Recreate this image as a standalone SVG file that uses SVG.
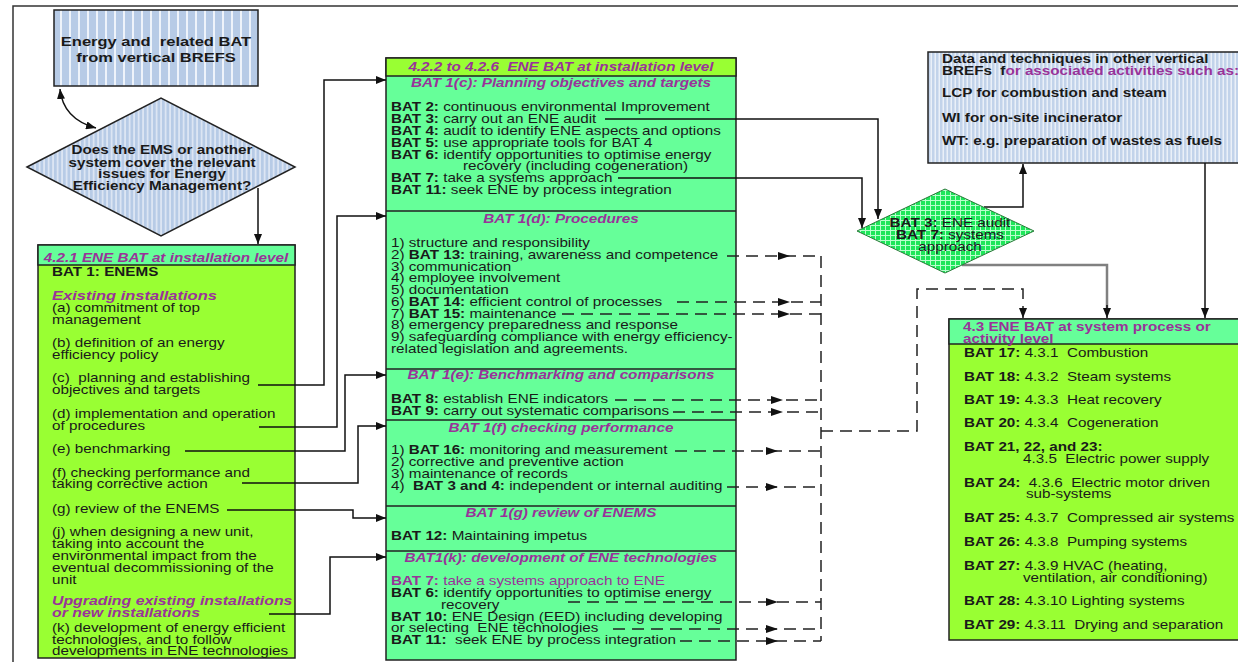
<svg xmlns="http://www.w3.org/2000/svg" width="1238" height="662" viewBox="0 0 1238 662">
<style>
.t{font-family:"Liberation Sans",Arial,sans-serif;font-size:12px;fill:#1a1a1a;white-space:pre}
.b{font-weight:bold}
.p{fill:#993399}
.h{font-weight:bold;font-style:italic;fill:#993399}
.c{text-anchor:middle}
.box{stroke:#222;stroke-width:1.5}
.ln{fill:none;stroke:#111;stroke-width:1.5}
.ds{fill:none;stroke:#222;stroke-width:1.5;stroke-dasharray:12 7}
</style>
<defs>
<pattern id="stripeA" patternUnits="userSpaceOnUse" width="9" height="10"><rect width="9" height="10" fill="#b7cbe6"/><rect x="6" width="2" height="10" fill="#eef3fa"/></pattern>
<pattern id="stripeB" patternUnits="userSpaceOnUse" width="4.5" height="10"><rect width="4.5" height="10" fill="#b7cbe6"/><rect x="3" width="1.2" height="10" fill="#eef3fa"/></pattern>
<pattern id="stripeC" patternUnits="userSpaceOnUse" width="4" height="10"><rect width="4" height="10" fill="#c2d3ea"/><rect x="2.6" width="1.2" height="10" fill="#f4f7fc"/></pattern>
<pattern id="grid" patternUnits="userSpaceOnUse" width="5" height="5"><rect width="5" height="5" fill="#1ee65a"/><path d="M0 0.5H5M0.5 0V5" stroke="#b8ffcc" stroke-width="1"/></pattern>
<marker id="ah" viewBox="0 0 10 8" refX="10" refY="4" markerWidth="10" markerHeight="8" markerUnits="userSpaceOnUse" orient="auto"><path d="M0 0L10 4L0 8z" fill="#111"/></marker>
<marker id="ahs" viewBox="0 0 10 8" refX="10" refY="4" markerWidth="10" markerHeight="8" markerUnits="userSpaceOnUse" orient="auto-start-reverse"><path d="M0 0L10 4L0 8z" fill="#111"/></marker>
<marker id="am" viewBox="0 0 12 8" refX="12" refY="4" markerWidth="12" markerHeight="8" markerUnits="userSpaceOnUse" orient="auto"><path d="M0 0L12 4L0 8z" fill="#111"/></marker>
</defs>
<rect width="1238" height="662" fill="#fff"/>
<path d="M13 662V6H1238" fill="none" stroke="#333" stroke-width="1.5"/>

<g id="vertical-brefs">
<rect class="box" x="54" y="10" width="204" height="76" fill="url(#stripeA)"/>
<g transform="scale(1.27 1)">
<text class="t b c" x="122.83" y="46" style="font-size:13px">Energy and  related BAT</text>
<text class="t b c" x="122.83" y="62" style="font-size:13px">from vertical BREFS</text>
</g>
</g>

<g id="ems-question">
<polygon class="box" points="27,167 161,98 295,167 161,236" fill="url(#stripeB)" stroke-width="1"/>
<g transform="scale(1.27 1)">
<text class="t b c" x="127.56" y="154">Does the EMS or another</text>
<text class="t b c" x="127.56" y="167">system cover the relevant</text>
<text class="t b c" x="127.56" y="178">issues for Energy</text>
<text class="t b c" x="127.56" y="190">Efficiency Management?</text>
</g>
</g>

<g id="installation-level-421">
<rect class="box" x="38" y="245" width="257" height="413" fill="#99ff33"/>
<rect class="box" x="38" y="245" width="257" height="20" fill="#66ff99"/>
<g transform="scale(1.27 1)">
<text class="t h c" x="130.71" y="262">4.2.1 ENE BAT at installation level</text>
<text class="t b" x="40.94" y="276">BAT 1: ENEMS</text>
<text class="t h" x="40.94" y="300" style="font-size:13px">Existing installations</text>
<text class="t" x="40.94" y="312">(a) commitment of top</text>
<text class="t" x="40.94" y="324">management</text>
<text class="t" x="40.94" y="347">(b) definition of an energy</text>
<text class="t" x="40.94" y="359">efficiency policy</text>
<text class="t" x="40.94" y="382">(c)  planning and establishing</text>
<text class="t" x="40.94" y="394">objectives and targets</text>
<text class="t" x="40.94" y="418">(d) implementation and operation</text>
<text class="t" x="40.94" y="430">of procedures</text>
<text class="t" x="40.94" y="453">(e) benchmarking</text>
<text class="t" x="40.94" y="477">(f) checking performance and</text>
<text class="t" x="40.94" y="488">taking corrective action</text>
<text class="t" x="40.94" y="513">(g) review of the ENEMS</text>
<text class="t" x="40.94" y="536">(j) when designing a new unit,</text>
<text class="t" x="40.94" y="548">taking into account the</text>
<text class="t" x="40.94" y="560">environmental impact from the</text>
<text class="t" x="40.94" y="572">eventual decommissioning of the</text>
<text class="t" x="40.94" y="584">unit</text>
<text class="t h" x="40.94" y="605" style="font-size:12.5px">Upgrading existing installations</text>
<text class="t h" x="40.94" y="617" style="font-size:12.5px">or new installations</text>
<text class="t" x="40.94" y="632">(k) development of energy efficient</text>
<text class="t" x="40.94" y="644">technologies, and to follow</text>
<text class="t" x="40.94" y="655">developments in ENE technologies</text>
</g>
</g>

<g id="installation-level-422">
<rect class="box" x="386" y="58" width="350" height="602" fill="#66ff99"/>
<rect class="box" x="386" y="58" width="350" height="18" fill="#99ff33"/>
<path d="M386 211H736M386 369H736M386 420H736M386 506H736M386 551H736" stroke="#222" stroke-width="1.5"/>
<g transform="scale(1.27 1)">
<text class="t h c" x="441.73" y="71">4.2.2 to 4.2.6  ENE BAT at installation level</text>
<g id="bat1c">
<text class="t h c" x="441.73" y="87">BAT 1(c): Planning objectives and targets</text>
<text class="t" x="307.87" y="111"><tspan class="b">BAT 2:</tspan> continuous environmental Improvement</text>
<text class="t" x="307.87" y="123"><tspan class="b">BAT 3:</tspan> carry out an ENE audit</text>
<text class="t" x="307.87" y="135"><tspan class="b">BAT 4:</tspan> audit to identify ENE aspects and options</text>
<text class="t" x="307.87" y="147"><tspan class="b">BAT 5:</tspan> use appropriate tools for BAT 4</text>
<text class="t" x="307.87" y="159"><tspan class="b">BAT 6:</tspan> identify opportunities to optimise energy</text>
<text class="t" x="364.57" y="170">recovery (including cogeneration)</text>
<text class="t" x="307.87" y="182"><tspan class="b">BAT 7:</tspan> take a systems approach</text>
<text class="t" x="307.87" y="194"><tspan class="b">BAT 11:</tspan> seek ENE by process integration</text>
</g>
<g id="bat1d">
<text class="t h c" x="441.73" y="223">BAT 1(d): Procedures</text>
<text class="t" x="307.87" y="247">1) structure and responsibility</text>
<text class="t" x="307.87" y="259">2) <tspan class="b">BAT 13:</tspan> training, awareness and competence</text>
<text class="t" x="307.87" y="271">3) communication</text>
<text class="t" x="307.87" y="282">4) employee involvement</text>
<text class="t" x="307.87" y="294">5) documentation</text>
<text class="t" x="307.87" y="306">6) <tspan class="b">BAT 14:</tspan> efficient control of processes</text>
<text class="t" x="307.87" y="318">7) <tspan class="b">BAT 15:</tspan> maintenance</text>
<text class="t" x="307.87" y="329">8) emergency preparedness and response</text>
<text class="t" x="307.87" y="341">9) safeguarding compliance with energy efficiency-</text>
<text class="t" x="307.87" y="353">related legislation and agreements.</text>
</g>
<g id="bat1e">
<text class="t h c" x="441.73" y="379">BAT 1(e): Benchmarking and comparisons</text>
<text class="t" x="307.87" y="403"><tspan class="b">BAT 8:</tspan> establish ENE indicators</text>
<text class="t" x="307.87" y="415"><tspan class="b">BAT 9:</tspan> carry out systematic comparisons</text>
</g>
<g id="bat1f">
<text class="t h c" x="441.73" y="432">BAT 1(f) checking performance</text>
<text class="t" x="307.87" y="454">1) <tspan class="b">BAT 16:</tspan> monitoring and measurement</text>
<text class="t" x="307.87" y="466">2) corrective and preventive action</text>
<text class="t" x="307.87" y="478">3) maintenance of records</text>
<text class="t" x="307.87" y="490">4)  <tspan class="b">BAT 3 and 4:</tspan> independent or internal auditing</text>
</g>
<g id="bat1g">
<text class="t h c" x="441.73" y="517">BAT 1(g) review of ENEMS</text>
<text class="t" x="307.87" y="540"><tspan class="b">BAT 12:</tspan> Maintaining impetus</text>
</g>
<g id="bat1k">
<text class="t h c" x="441.73" y="562">BAT1(k): development of ENE technologies</text>
<text class="t p" x="307.87" y="585"><tspan class="b">BAT 7:</tspan> take a systems approach to ENE</text>
<text class="t" x="307.87" y="597"><tspan class="b">BAT 6:</tspan> identify opportunities to optimise energy</text>
<text class="t" x="347.24" y="609">recovery</text>
<text class="t" x="307.87" y="621"><tspan class="b">BAT 10:</tspan> ENE Design (EED) including developing</text>
<text class="t" x="307.87" y="632">or selecting  ENE technologies</text>
<text class="t" x="307.87" y="644"><tspan class="b">BAT 11:</tspan>  seek ENE by process integration</text>
</g>
</g>
</g>

<g id="other-brefs">
<rect class="box" x="928" y="52" width="320" height="111" fill="url(#stripeC)"/>
<g transform="scale(1.27 1)">
<text class="t b" x="741.73" y="63">Data and techniques in other vertical</text>
<text class="t b" x="741.73" y="75">BREFs  f<tspan class="p">or associated activities such as:</tspan></text>
<text class="t b" x="741.73" y="97">LCP for combustion and steam</text>
<text class="t b" x="741.73" y="122">WI for on-site incinerator</text>
<text class="t b" x="741.73" y="145">WT: e.g. preparation of wastes as fuels</text>
</g>
</g>

<g id="system-level-43">
<rect class="box" x="949" y="319" width="300" height="321" fill="#99ff33"/>
<rect class="box" x="949" y="319" width="300" height="25" fill="#66ff99"/>
<g transform="scale(1.27 1)">
<text class="t b p" x="758.27" y="331">4.3 ENE BAT at system process or</text>
<text class="t b p" x="758.27" y="343">activity level</text>
<text class="t" x="759.06" y="357"><tspan class="b">BAT 17:</tspan> 4.3.1  Combustion</text>
<text class="t" x="759.06" y="381"><tspan class="b">BAT 18:</tspan> 4.3.2  Steam systems</text>
<text class="t" x="759.06" y="404"><tspan class="b">BAT 19:</tspan> 4.3.3  Heat recovery</text>
<text class="t" x="759.06" y="427"><tspan class="b">BAT 20:</tspan> 4.3.4  Cogeneration</text>
<text class="t b" x="759.06" y="451">BAT 21, 22, and 23:</text>
<text class="t" x="805.51" y="463">4.3.5  Electric power supply</text>
<text class="t" x="759.06" y="487"><tspan class="b">BAT 24:</tspan>  4.3.6  Electric motor driven</text>
<text class="t" x="807.87" y="498">sub-systems</text>
<text class="t" x="759.06" y="522"><tspan class="b">BAT 25:</tspan> 4.3.7  Compressed air systems</text>
<text class="t" x="759.06" y="546"><tspan class="b">BAT 26:</tspan> 4.3.8  Pumping systems</text>
<text class="t" x="759.06" y="570"><tspan class="b">BAT 27:</tspan> 4.3.9 HVAC (heating,</text>
<text class="t" x="805.51" y="582">ventilation, air conditioning)</text>
<text class="t" x="759.06" y="605"><tspan class="b">BAT 28:</tspan> 4.3.10 Lighting systems</text>
<text class="t" x="759.06" y="629"><tspan class="b">BAT 29:</tspan> 4.3.11  Drying and separation</text>
</g>
</g>

<g id="connectors">
<path class="ln" d="M60 89Q63 119 96 128" marker-start="url(#ahs)" marker-end="url(#ahs)"/>
<path class="ln" d="M258 188V244" marker-end="url(#ah)"/>
<path class="ln" d="M258 385H324V80H386" marker-end="url(#ah)"/>
<path class="ln" d="M259 427H337V216H386" marker-end="url(#ah)"/>
<path class="ln" d="M185 451H345V375H386" marker-end="url(#ah)"/>
<path class="ln" d="M242 483H358V426H386" marker-end="url(#ah)"/>
<path class="ln" d="M227 510H353V518H386" marker-end="url(#ah)"/>
<path class="ln" d="M269 614H330V557H386" marker-end="url(#ah)"/>
<path class="ln" d="M605 119H878V219" marker-end="url(#ah)"/>
<path class="ln" d="M618 178H862V228" marker-end="url(#ah)"/>
<path class="ln" d="M984 207H1023V164" marker-end="url(#ah)"/>
<path d="M962 265H1107V312" fill="none" stroke="#808080" stroke-width="2.5"/>
<path class="ln" d="M1107 305V318" marker-end="url(#ah)"/>
<path class="ln" d="M1205 163V318" marker-end="url(#ah)"/>
<path class="ds" d="M727 256L790 256L821 256" marker-mid="url(#am)"/>
<path class="ds" d="M677 302L790 302L821 302" marker-mid="url(#am)"/>
<path class="ds" d="M562 314L790 314L821 314" marker-mid="url(#am)"/>
<path class="ds" d="M615 400L783 400L821 400" marker-mid="url(#am)"/>
<path class="ds" d="M673 412L783 412L821 412" marker-mid="url(#am)"/>
<path class="ds" d="M675 451L778 451L821 451" marker-mid="url(#am)"/>
<path class="ds" d="M727 487L778 487L821 487" marker-mid="url(#am)"/>
<path class="ds" d="M568 602L778 602L821 602" marker-mid="url(#am)"/>
<path class="ds" d="M613 629L778 629L821 629" marker-mid="url(#am)"/>
<path class="ds" d="M680 641L778 641L821 641" marker-mid="url(#am)"/>
<path class="ds" d="M821 256V641"/>
<path class="ds" d="M821 431H917V289H1023V318" marker-end="url(#ah)"/>
</g>

<g id="audit-decision">
<polygon points="857,231 945,189 1034,231 945,273" fill="url(#grid)" stroke="#2a7a3a" stroke-width="1"/>
<g transform="scale(1.27 1)">
<text class="t c" x="748.03" y="227"><tspan class="b">BAT 3:</tspan> ENE audit</text>
<text class="t c" x="748.03" y="239"><tspan class="b">BAT 7:</tspan> systems</text>
<text class="t c" x="748.03" y="251">approach</text>
</g>
</g>
</svg>
